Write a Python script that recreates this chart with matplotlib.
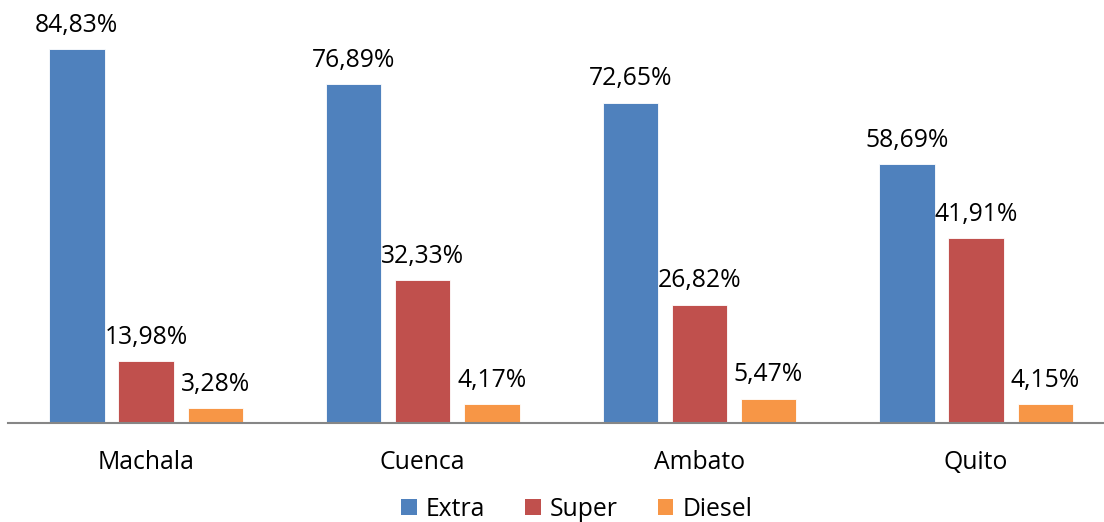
import matplotlib
matplotlib.use("Agg")
import matplotlib.pyplot as plt
from matplotlib.patches import Patch
import numpy as np

cities = ["Machala", "Cuenca", "Ambato", "Quito"]
series_names = ["Extra", "Super", "Diesel"]
extra = [84.83, 76.89, 72.65, 58.69]
super_ = [13.98, 32.33, 26.82, 41.91]
diesel = [3.28, 4.17, 5.47, 4.15]
colors = ["#4F81BD", "#C0504D", "#F79646"]

plt.rcParams['font.family'] = ['Open Sans', 'DejaVu Sans']
FS = 17.8

W, H = 1104, 522
fig = plt.figure(figsize=(W / 100, H / 100), dpi=100)
left_px, base_px, top_ymax = 7.7, 422.7, 90
scale = 4.405
ax = fig.add_axes([left_px / W, (H - base_px) / H, 1106.7 / W, top_ymax * scale / H])

x = np.arange(len(cities))
offsets = [-0.25, 0.0, 0.25]
width = 0.2
for vals, off, col, name in zip([extra, super_, diesel], offsets, colors, series_names):
    bars = ax.bar(x + off, vals, width=width, color=col, edgecolor="#FFFFFF", linewidth=0.6, label=name, zorder=2)
    for b, v in zip(bars, vals):
        ax.annotate(f"{v:.2f}%".replace(".", ","), (b.get_x() + b.get_width() / 2, v),
                    xytext=(0, 12.5), textcoords="offset points", ha="center", va="baseline",
                    fontsize=FS, color="#000000", zorder=3)

ax.set_xlim(-0.5, 3.5)
ax.set_ylim(0, top_ymax)
ax.set_xticks(x)
ax.set_xticklabels(cities, fontsize=FS)
ax.tick_params(axis="x", length=0, pad=19.5)
ax.set_yticks([])
for s in ["top", "right", "left"]:
    ax.spines[s].set_visible(False)
ax.spines["bottom"].set_color("#868686")
ax.spines["bottom"].set_linewidth(1.5)
ax.patch.set_alpha(0)

handles = [Patch(facecolor=c, edgecolor="none") for c in colors]
fig.legend(handles, series_names, loc="center", bbox_to_anchor=(577 / W, 1 - 509 / H),
           ncol=3, frameon=False, fontsize=FS, handlelength=0.62, handleheight=0.62,
           handletextpad=0.38, columnspacing=1.62, borderpad=0, borderaxespad=0)

fig.savefig("out.png", dpi=100)
